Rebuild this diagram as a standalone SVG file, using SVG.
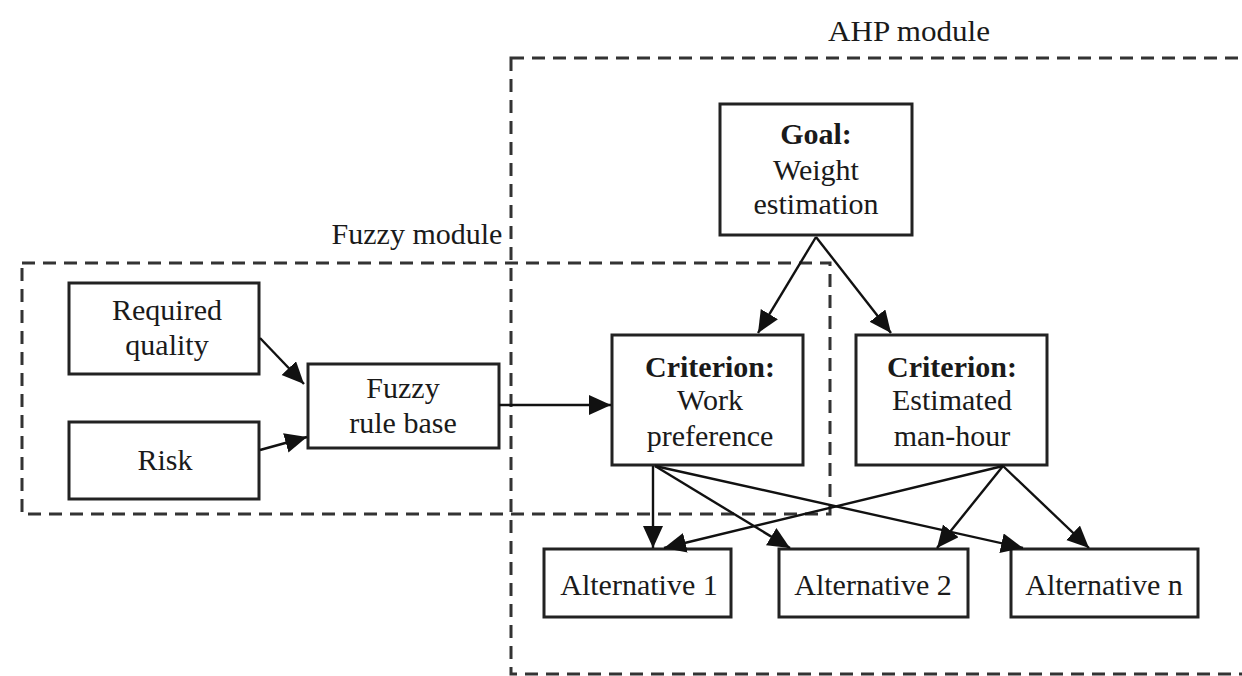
<svg xmlns="http://www.w3.org/2000/svg" width="1242" height="676" viewBox="0 0 1242 676">
<style>
.box{fill:#fff;stroke:#222;stroke-width:3}
.mod{fill:none;stroke:#333;stroke-width:3;stroke-dasharray:13 8}
.t{font-family:"Liberation Serif","Times New Roman",serif;font-size:30px;fill:#1a1a1a;text-anchor:middle}
.b{font-weight:bold}
.c{stroke:#111;stroke-width:2.4;fill:none;marker-end:url(#ah)}
</style>
<defs>
<marker id="ah" markerUnits="userSpaceOnUse" markerWidth="24" markerHeight="22" refX="22" refY="10" orient="auto">
<path d="M0,0 L22,10 L0,20 z" fill="#111"/>
</marker>
</defs>
<rect width="1242" height="676" fill="#fff"/>
<g id="ahp-module">
<rect class="mod" x="511" y="58" width="745" height="616"/>
<text class="t" x="909" y="41" textLength="162" lengthAdjust="spacingAndGlyphs">AHP module</text>
</g>
<g id="fuzzy-module">
<rect class="mod" x="22" y="263" width="808" height="251"/>
<text class="t" x="417" y="244">Fuzzy module</text>
</g>
<g id="goal">
<rect class="box" x="720" y="104" width="192" height="131"/>
<text class="t b" x="816" y="144">Goal:</text>
<text class="t" x="816" y="180">Weight</text>
<text class="t" x="816" y="214">estimation</text>
</g>
<g id="required-quality">
<rect class="box" x="69" y="283" width="190" height="91"/>
<text class="t" x="167" y="320">Required</text>
<text class="t" x="167" y="355">quality</text>
</g>
<g id="risk">
<rect class="box" x="69" y="422" width="190" height="77"/>
<text class="t" x="165" y="470">Risk</text>
</g>
<g id="fuzzy-rule-base">
<rect class="box" x="308" y="364" width="191" height="84"/>
<text class="t" x="403" y="398">Fuzzy</text>
<text class="t" x="403" y="433">rule base</text>
</g>
<g id="criterion-work">
<rect class="box" x="612" y="335" width="191" height="130"/>
<text class="t b" x="710" y="377">Criterion:</text>
<text class="t" x="710" y="410">Work</text>
<text class="t" x="710" y="446">preference</text>
</g>
<g id="criterion-manhour">
<rect class="box" x="856" y="335" width="191" height="130"/>
<text class="t b" x="952" y="377">Criterion:</text>
<text class="t" x="952" y="410">Estimated</text>
<text class="t" x="952" y="446">man-hour</text>
</g>
<g id="alt1">
<rect class="box" x="544" y="549" width="187" height="68"/>
<text class="t" x="639" y="595">Alternative 1</text>
</g>
<g id="alt2">
<rect class="box" x="779" y="549" width="189" height="68"/>
<text class="t" x="873" y="595">Alternative 2</text>
</g>
<g id="altn">
<rect class="box" x="1011" y="549" width="187" height="68"/>
<text class="t" x="1104" y="595">Alternative n</text>
</g>
<g id="connectors">
<line class="c" x1="260" y1="338" x2="304" y2="384"/>
<line class="c" x1="260" y1="450" x2="307" y2="437"/>
<line class="c" x1="499" y1="405" x2="611" y2="405"/>
<line class="c" x1="816" y1="237" x2="758" y2="333"/>
<line class="c" x1="816" y1="237" x2="891" y2="333"/>
<line class="c" x1="653" y1="466" x2="653" y2="548"/>
<line class="c" x1="655" y1="466" x2="790" y2="548"/>
<line class="c" x1="655" y1="466" x2="1023" y2="548"/>
<line class="c" x1="1003" y1="466" x2="664" y2="548"/>
<line class="c" x1="1003" y1="466" x2="937" y2="548"/>
<line class="c" x1="1003" y1="466" x2="1089" y2="548"/>
</g>
</svg>
